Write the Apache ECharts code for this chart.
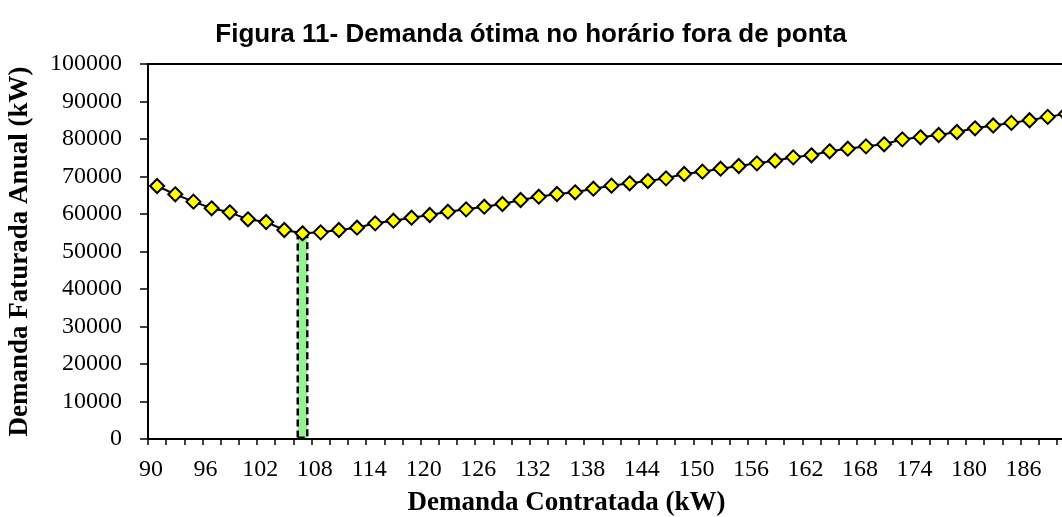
<!DOCTYPE html>
<html>
<head>
<meta charset="utf-8">
<script src="https://cdn.jsdelivr.net/npm/echarts@6/dist/echarts.min.js"></script>
<style>
html,body{margin:0;padding:0;background:#fff;}
#chart{width:1062px;height:517px;}
</style>
</head>
<body>
<div id="chart"></div>
<script>
const categories = ['90','92','94','96','98','100','102','104','106','108','110','112','114','116','118','120','122','124','126','128','130','132','134','136','138','140','142','144','146','148','150','152','154','156','158','160','162','164','166','168','170','172','174','176','178','180','182','184','186','188','190'];
const demandaFaturada = [67470,65250,63290,61520,60450,58580,57870,55730,54850,55110,55730,56350,57510,58220,59020,59730,60620,61240,61950,62670,63730,64620,65330,65780,66750,67560,68180,68800,69510,70670,71290,72080,72800,73510,74220,75110,75650,76720,77420,78040,78580,79910,80450,81070,81870,82850,83600,84300,85000,85900,86700];
const otimoCategoria = '106';
const otimoValor = 54850;
const yTicks = {min: 0, max: 100000, interval: 10000};

const barData = categories.map(c => c === otimoCategoria ? otimoValor : '-');

const chart = echarts.init(document.getElementById('chart'), null, {renderer: 'canvas'});
chart.setOption({
  animation: false,
  backgroundColor: '#fff',
  title: {
    text: 'Figura 11- Demanda ótima no horário fora de ponta',
    left: 'center',
    top: 17,
    textStyle: {fontFamily: 'Liberation Sans', fontWeight: 'bold', fontSize: 26, color: '#000'}
  },
  grid: {
    left: 148, top: 64, bottom: 78, right: -13,
    containLabel: false,
    outerBoundsMode: 'none',
    show: true, borderColor: '#000', borderWidth: 2, backgroundColor: 'transparent'
  },
  xAxis: {
    type: 'category',
    data: categories,
    boundaryGap: true,
    name: 'Demanda Contratada (kW)',
    nameLocation: 'middle',
    nameGap: 51,
    nameTextStyle: {fontFamily: 'Liberation Serif', fontWeight: 'bold', fontSize: 27, color: '#000', padding: [0, 90, 0, 0]},
    axisLine: {lineStyle: {color: '#000', width: 2}},
    axisTick: {show: true, interval: 0, length: 6, lineStyle: {color: '#000', width: 1.5}},
    axisLabel: {interval: 2, fontFamily: 'Liberation Serif', fontSize: 24, color: '#000', margin: 19, padding: [0, 12, 0, 0]},
    splitLine: {show: false}
  },
  yAxis: {
    type: 'value',
    min: yTicks.min, max: yTicks.max, interval: yTicks.interval,
    name: 'Demanda Faturada Anual (kW)',
    nameLocation: 'middle',
    nameGap: 114,
    nameTextStyle: {fontFamily: 'Liberation Serif', fontWeight: 'bold', fontSize: 27, color: '#000'},
    axisLine: {show: true, lineStyle: {color: '#000', width: 2}},
    axisTick: {show: true, length: 8, lineStyle: {color: '#000', width: 1.5}},
    axisLabel: {fontFamily: 'Liberation Serif', fontSize: 24, color: '#000', margin: 26, padding: [4, 0, 0, 0], formatter: v => String(v)},
    splitLine: {show: false}
  },
  series: [
    {
      type: 'bar',
      data: barData,
      barWidth: 12,
      z: 1,
      itemStyle: {color: '#92F592', borderColor: '#000', borderWidth: 2.5, borderType: [7, 4]}
    },
    {
      type: 'line',
      data: demandaFaturada,
      z: 3,
      showAllSymbol: true,
      symbol: 'diamond',
      symbolSize: 14,
      lineStyle: {color: '#000', width: 2},
      itemStyle: {color: '#FFFF00', borderColor: '#000', borderWidth: 2}
    }
  ]
});
</script>
</body>
</html>
